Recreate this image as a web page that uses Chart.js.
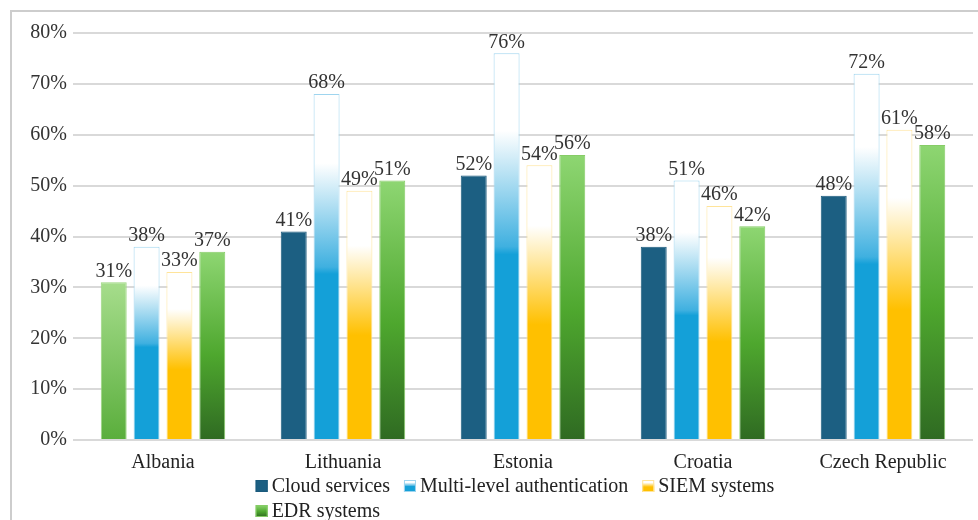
<!DOCTYPE html>
<html>
<head>
<meta charset="utf-8">
<script src="https://cdn.jsdelivr.net/npm/chart.js@4/dist/chart.umd.min.js"></script>
<style>
  html, body { margin: 0; padding: 0; background: #fff; }
  #wrap { width: 978px; height: 520px; }
</style>
</head>
<body>
<div id="wrap"><canvas id="grafica" width="978" height="520"></canvas></div>
<script>
// Datos
const paises = ['Albania', 'Lithuania', 'Estonia', 'Croatia', 'Czech Republic'];
const cloud = [31, 41, 52, 38, 48];
const multiNivel = [38, 68, 76, 51, 72];
const siem = [33, 49, 54, 46, 61];
const edr = [37, 51, 56, 42, 58];
const ticksY = [0, 10, 20, 30, 40, 50, 60, 70, 80];

const fuente = "'Liberation Serif', 'DejaVu Serif', serif";
const tamLetra = 20;

// degradados: [posición relativa desde arriba, color]
const estilos = [
  { borde: '#1a5a7c', paradas: [[0, '#1c5f82'], [1, '#1c5f82']] },
  { borde: '#9fd5ef', paradas: [[0, '#ffffff'], [0.2, '#ffffff'], [0.5, '#3fb0e0'], [0.52, '#14a0d8'], [1, '#14a0d8']] },
  { borde: '#ffe49a', paradas: [[0, '#ffffff'], [0.22, '#ffffff'], [0.58, '#ffc000'], [1, '#ffc000']] },
  { borde: '#86cc66', paradas: [[0, '#8ed672'], [0.55, '#4ea72e'], [1, '#2f6a22']] },
];
// la barra de Albania en "Cloud services" sale verde claro en el original
const estiloAlbania = { borde: '#9ad67e', paradas: [[0, '#a6dd8c'], [1, '#5aae3c']] };

function degradado(ctx, est) {
  const y = ctx.chart.scales && ctx.chart.scales.y;
  const plano = est.paradas[est.paradas.length - 1][1];
  if (!y || ctx.raw == null) return plano;
  const arriba = y.getPixelForValue(ctx.raw);
  const abajo = y.getPixelForValue(0);
  if (!isFinite(arriba) || !isFinite(abajo) || arriba === abajo) return plano;
  const g = ctx.chart.ctx.createLinearGradient(0, arriba, 0, abajo);
  est.paradas.forEach(([p, c]) => g.addColorStop(p, c));
  return g;
}
const estiloDe = ctx => (ctx.datasetIndex === 0 && ctx.dataIndex === 0) ? estiloAlbania : estilos[ctx.datasetIndex];

const series = [
  { label: 'Cloud services', data: cloud },
  { label: 'Multi-level authentication', data: multiNivel },
  { label: 'SIEM systems', data: siem },
  { label: 'EDR systems', data: edr },
];

// marco gris y fondo blanco
const marco = {
  id: 'marco',
  beforeDraw(chart) {
    const c = chart.ctx;
    c.save();
    c.fillStyle = '#fff';
    c.fillRect(0, 0, chart.width, chart.height);
    c.strokeStyle = '#cdcdcd';
    c.lineWidth = 2;
    c.beginPath();
    c.moveTo(11, chart.height);
    c.lineTo(11, 11);
    c.lineTo(chart.width, 11);
    c.stroke();
    c.restore();
  }
};

// etiquetas de valor encima de cada barra
const etiquetas = {
  id: 'etiquetas',
  afterDatasetsDraw(chart) {
    const c = chart.ctx;
    c.save();
    c.font = tamLetra + 'px ' + fuente;
    c.fillStyle = '#333';
    c.textAlign = 'center';
    c.textBaseline = 'bottom';
    chart.data.datasets.forEach((ds, i) => {
      chart.getDatasetMeta(i).data.forEach((el, j) => {
        c.fillText(ds.data[j] + '%', el.x, el.y - 1);
      });
    });
    c.restore();
  }
};

// leyenda al estilo LibreOffice: 3 por fila, filas alineadas a la izquierda
const leyenda = {
  id: 'leyenda',
  afterDraw(chart) {
    const c = chart.ctx;
    const area = chart.chartArea;
    c.save();
    c.font = tamLetra + 'px ' + fuente;
    c.textBaseline = 'middle';
    const caja = 12, sep = 4, hueco = 14, porFila = 3;
    const anchos = series.map(s => caja + sep + c.measureText(s.label).width);
    const fila1 = anchos.slice(0, porFila).reduce((a, b) => a + b, 0) + hueco * (porFila - 1);
    const x0 = (area.left + area.right) / 2 - fila1 / 2 - 8;
    const y0 = 486, altoFila = 25;
    let x = x0;
    series.forEach((s, i) => {
      if (i > 0 && i % porFila === 0) x = x0;
      const y = y0 + Math.floor(i / porFila) * altoFila;
      const est = estilos[i];
      const g = c.createLinearGradient(0, y - caja / 2, 0, y + caja / 2);
      est.paradas.forEach(([p, col]) => g.addColorStop(p, col));
      c.fillStyle = g;
      c.fillRect(x, y - caja / 2, caja, caja);
      c.strokeStyle = est.borde;
      c.lineWidth = 1;
      c.strokeRect(x + 0.5, y - caja / 2 + 0.5, caja - 1, caja - 1);
      c.fillStyle = '#222';
      c.fillText(s.label, x + caja + sep, y + 1);
      x += anchos[i] + hueco;
    });
    c.restore();
  }
};

new Chart(document.getElementById('grafica'), {
  type: 'bar',
  data: {
    labels: paises,
    datasets: series.map((s, i) => ({
      label: s.label,
      data: s.data,
      backgroundColor: ctx => degradado(ctx, estiloDe(ctx)),
      borderColor: ctx => estiloDe(ctx).borde,
      borderWidth: 1,
      categoryPercentage: 0.73,
      barPercentage: 0.79,
    })),
  },
  options: {
    responsive: false,
    animation: false,
    layout: { padding: { left: 11, right: 5, top: 33, bottom: 44 } },
    plugins: { legend: { display: false }, tooltip: { enabled: false } },
    scales: {
      x: {
        afterFit: s => { s.height = 36; },
        grid: { display: false },
        border: { display: false },
        ticks: { color: '#222', font: { family: fuente, size: tamLetra }, padding: 3, maxRotation: 0 },
      },
      y: {
        min: 0, max: 80,
        afterBuildTicks: s => { s.ticks = ticksY.map(v => ({ value: v })); },
        afterFit: s => { s.width = 62; },
        grid: { color: '#d9d9d9', lineWidth: 2, drawTicks: false },
        border: { display: false },
        ticks: { color: '#333', font: { family: fuente, size: tamLetra }, padding: 6, callback: v => v + '%' },
      },
    },
  },
  plugins: [marco, etiquetas, leyenda],
});
</script>
</body>
</html>
